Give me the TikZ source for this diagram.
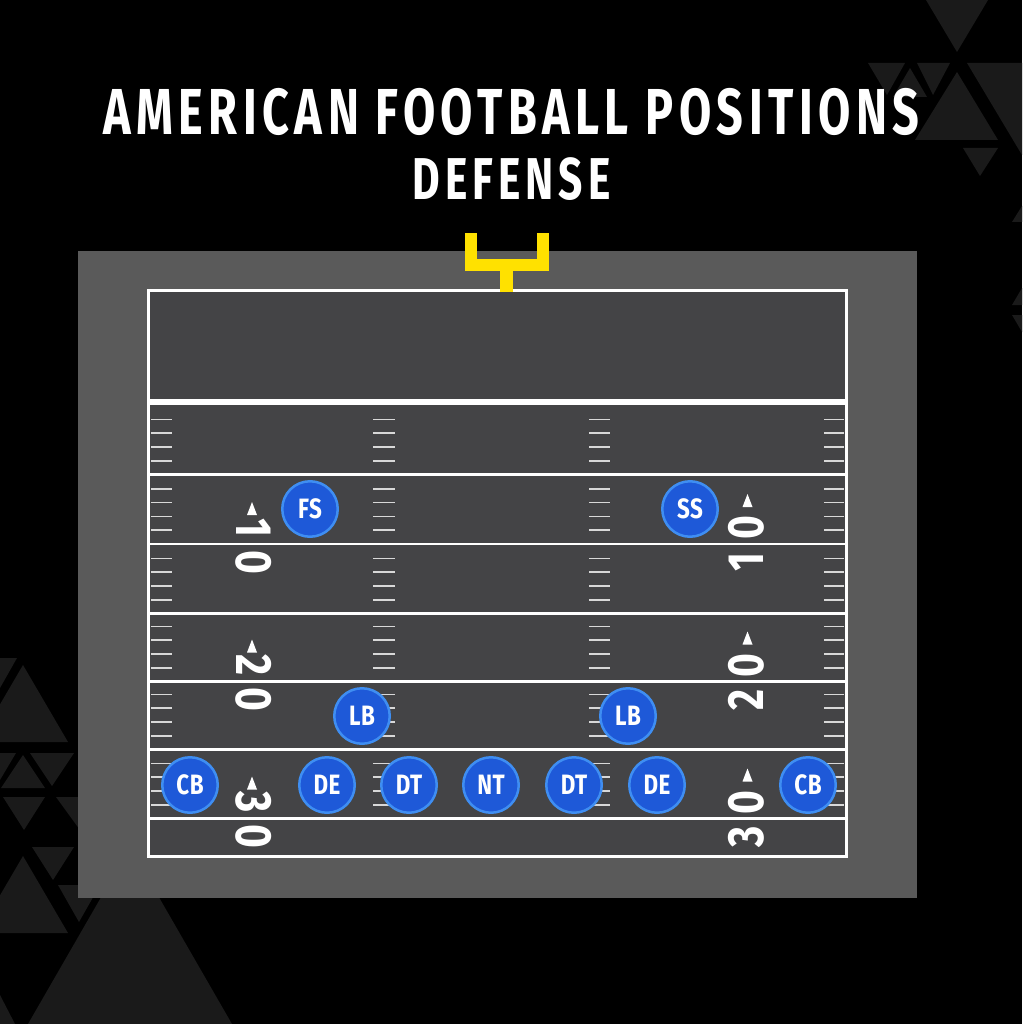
\documentclass[tikz,border=0pt]{standalone}
\usepackage{fontspec}
\setmainfont{Fira Sans}
\newfontfamily\headfont{Fira Sans}[FakeStretch=0.72,LetterSpace=8.5]
\newfontfamily\condfont{Fira Sans}[FakeStretch=0.8,LetterSpace=2]
\usetikzlibrary{positioning}

\definecolor{bgtri}{HTML}{1A1A1A}
\definecolor{framegray}{HTML}{5A5A5A}
\definecolor{turf}{HTML}{444446}
\definecolor{posts}{HTML}{FFE100}
\definecolor{jersey}{HTML}{1E59D8}
\definecolor{jerseyrim}{HTML}{3F8EF2}
\definecolor{hashgray}{HTML}{D8D8D8}

\tikzset{
  deco/.style={fill=bgtri},
  title/.style={text=white, inner sep=0pt, font=\headfont\bfseries\fontsize{65}{65}\selectfont},
  subtitle/.style={title, font=\headfont\bfseries\fontsize{59}{59}\selectfont},
  player/.style={circle, fill=jersey, draw=jerseyrim, line width=2.5pt,
    minimum size=55.5pt, inner sep=0pt, text=white,
    font=\condfont\bfseries\fontsize{28}{28}\selectfont},
  yardnum/.style={text=white, inner sep=0pt, font=\condfont\bfseries\fontsize{51}{51}\selectfont},
  yardline/.style={white, line width=2.8pt},
  hash/.style={hashgray, line width=1.6pt},
}

\begin{document}
\begin{tikzpicture}[x=1pt,y=-1pt]
\useasboundingbox[fill=black] (0,0) rectangle (1022,1024);

% background triangles, top right
\fill[deco] (926,0) -- (988,0) -- (957,52) -- cycle;
\fill[deco] (868,63) -- (905,63) -- (887,95) -- cycle;
\fill[deco] (910,68) -- (927,97) -- (893,97) -- cycle;
\fill[deco] (917,63) -- (950,63) -- (933,95) -- cycle;
\fill[deco] (957,72) -- (998,140) -- (915,140) -- cycle;
\fill[deco] (967,63) -- (1022,63) -- (1022,155) -- cycle;
\fill[deco] (963,148) -- (998,148) -- (980,176) -- cycle;
\fill[deco] (1022,206) -- (1022,222) -- (1012,222) -- cycle;
\fill[deco] (1022,288) -- (1022,305) -- (1012,305) -- cycle;
\fill[deco] (1012,315) -- (1022,315) -- (1022,332) -- cycle;
% background triangles, bottom left
\fill[deco] (0,658) -- (17,658) -- (0,688) -- cycle;
\fill[deco] (23,665) -- (68,742) -- (-22,742) -- cycle;
\fill[deco] (23,755) -- (45,788) -- (1,788) -- cycle;
\fill[deco] (30,753) -- (74,753) -- (52,786) -- cycle;
\fill[deco] (0,753) -- (16,753) -- (0,780) -- cycle;
\fill[deco] (3,797) -- (45,797) -- (24,830) -- cycle;
\fill[deco] (56,797) -- (80,797) -- (80,830) -- cycle;
\fill[deco] (23,856) -- (68,933) -- (-22,933) -- cycle;
\fill[deco] (32,847) -- (74,847) -- (53,880) -- cycle;
\fill[deco] (58,885) -- (100,885) -- (79,922) -- cycle;
\fill[deco] (130,847) -- (232,1024) -- (28,1024) -- cycle;
\fill[deco] (0,995) -- (15,1024) -- (0,1024) -- cycle;

% field
\fill[framegray] (78,251) rectangle (917,898);
\fill[turf] (148,290) rectangle (846,856);
\draw[white, line width=3pt] (148,290) rectangle (846,856);
\draw[white, line width=6pt] (148,402) -- (846,402);
\foreach \y in {474.5,544,613.5,681.5,749.5,818.5}{
  \draw[yardline] (148,\y) -- (846,\y);
  \foreach \k in {1,...,4}
    \foreach \xa/\xb in {151/172,373/395,589/610,824/844}
      \draw[hash] (\xa,{\y-\k*13.8}) -- (\xb,{\y-\k*13.8});
}

% goal post
\fill[posts] (465,233) rectangle (477,271);
\fill[posts] (537,233) rectangle (549,271);
\fill[posts] (465,259) rectangle (549,271);
\fill[posts] (500,271) rectangle (513,292);

% yard numbers
\foreach \y/\a/\b in {544/1/0,681.5/2/0,818.5/3/0}{
  \node[yardnum, rotate=-90] (left-\a a) at (254,\y-16) {\a};
  \node[yardnum, rotate=-90] (left-\a b) at (254,\y+18) {\b};
  \fill[white] (252,\y-42) -- (257,\y-29) -- (247,\y-29) -- cycle;
  \node[yardnum, rotate=90] (right-\a a) at (746,\y+18) {\a};
  \node[yardnum, rotate=90] (right-\a b) at (746,\y-16) {\b};
  \fill[white] (747.5,\y-50) -- (752.5,\y-37) -- (742.5,\y-37) -- cycle;
}

% players
\foreach \name/\lbl/\x/\y in {fs/FS/310/509, ss/SS/690/509,
    lbl/LB/362/716, lbr/LB/628/716,
    cbl/CB/190/785, del/DE/327/785, dtl/DT/409/785, nt/NT/491/785,
    dtr/DT/574/785, der/DE/657/785, cbr/CB/808/785}
  \node[player] (\name) at (\x,\y) {\lbl};

% title
\node[title] (title) at (511.5,112) {AMERICAN FOOTBALL POSITIONS};
\node[subtitle, below=22pt of title] (subtitle) {DEFENSE};
\end{tikzpicture}
\end{document}
